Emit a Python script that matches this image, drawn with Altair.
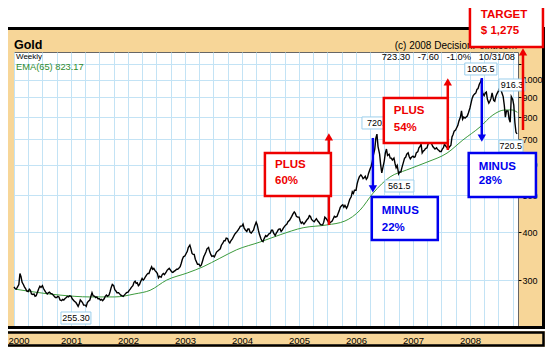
import altair as alt
import pandas as pd

# ---------------- values ----------------
# Weekly gold price (USD/oz): 4 readings a month (days 1, 8, 15, 22)
gold_2000 = [288, 285, 284, 287, 292, 312, 306, 296, 292, 288, 285, 281,
             280, 284, 282, 276, 275, 276, 272, 273, 280, 285, 289, 287,
             290, 285, 282, 279, 276, 278, 279, 277, 276, 274, 272, 270,
             270, 272, 271, 266, 265, 267, 266, 268, 270, 272, 271, 273]
gold_2001 = [272, 268, 266, 264, 262, 259, 256, 260, 266, 264, 262, 258,
             258, 256, 262, 264, 266, 272, 278, 273, 272, 270, 271, 268,
             268, 266, 267, 265, 268, 272, 274, 272, 274, 280, 287, 292,
             290, 283, 281, 278, 278, 276, 274, 273, 272, 274, 276, 278]
gold_2002 = [279, 282, 284, 287, 290, 296, 298, 294, 295, 290, 292, 297,
             303, 300, 302, 306, 310, 312, 312, 318, 325, 320, 322, 318,
             315, 312, 304, 307, 305, 310, 312, 310, 314, 318, 320, 322,
             318, 315, 314, 316, 318, 320, 320, 322, 325, 332, 340, 345]
gold_2003 = [347, 352, 356, 365, 370, 362, 352, 350, 350, 340, 335, 330,
             330, 326, 328, 335, 345, 350, 355, 362, 365, 356, 350, 346,
             347, 345, 350, 355, 358, 360, 362, 370, 375, 380, 380, 386,
             385, 378, 375, 380, 385, 390, 395, 398, 402, 406, 410, 415]
gold_2004 = [415, 420, 410, 406, 402, 408, 408, 400, 398, 402, 405, 415,
             425, 418, 405, 395, 385, 380, 378, 385, 392, 390, 393, 396,
             398, 405, 405, 398, 392, 398, 402, 407, 408, 402, 405, 410,
             415, 418, 420, 426, 430, 435, 440, 446, 452, 448, 440, 438]
gold_2005 = [438, 428, 422, 425, 420, 424, 428, 432, 435, 442, 440, 432,
             428, 426, 430, 434, 428, 425, 420, 418, 418, 425, 438, 435,
             430, 425, 422, 425, 428, 434, 440, 438, 440, 448, 455, 465,
             470, 472, 465, 470, 462, 468, 478, 488, 495, 510, 505, 515]
gold_2006 = [515, 535, 548, 558, 565, 560, 552, 555, 560, 550, 555, 570,
             585, 595, 612, 635, 660, 705, 722, 670, 640, 600, 572, 590,
             615, 645, 660, 635, 640, 625, 625, 618, 625, 605, 590, 598,
             568, 575, 575, 590, 610, 625, 628, 640, 645, 630, 622, 628]
gold_2007 = [632, 628, 630, 645, 650, 665, 670, 680, 645, 652, 655, 662,
             665, 680, 690, 685, 680, 670, 665, 660, 665, 658, 655, 650,
             650, 660, 665, 680, 670, 665, 660, 668, 675, 710, 720, 735,
             740, 750, 760, 780, 800, 830, 790, 800, 795, 800, 805, 820]
gold_2008 = [845, 870, 895, 910, 920, 925, 945, 950, 975, 985, 1005, 925,
             910, 925, 930, 890, 870, 880, 895, 925, 885, 880, 905, 920,
             935, 950, 955, 930, 905, 860, 800, 830, 830, 790, 775, 905,
             890, 860, 775, 730, 723]

# EMA(65) line
ema_dates = ["2000-01-08", "2000-10-22", "2001-05-01", "2001-10-08", "2002-02-14",
             "2002-05-22", "2002-09-06", "2003-01-15", "2003-04-27", "2003-08-12",
             "2003-11-28", "2004-04-25", "2004-09-02", "2005-01-27", "2005-06-29",
             "2005-10-22", "2006-01-27", "2006-04-20", "2006-08-07", "2006-11-22",
             "2007-04-01", "2007-08-07", "2007-11-17", "2008-03-06", "2008-05-27",
             "2008-08-12", "2008-09-26", "2008-10-31"]
ema_values = [284, 274, 271, 271, 276, 282, 300, 313, 325, 342,
              360, 377, 394, 411, 418, 428, 457, 506, 558, 582,
              610, 644, 697, 754, 810, 835, 835, 823]

y_ticks = [300, 400, 500, 600, 700, 800, 900, 1000, 1100]
quarters = [(y, m) for y in range(2000, 2009) for m in (1, 4, 7, 10)]

# value labels on the price line
lab_text = ["1005.5", "916.3", "720.5", "720.5", "561.5", "255.30"]
lab_x = ["2008-03-11", "2008-09-26", "2006-05-24", "2008-09-19", "2006-10-05", "2001-02-01"]
lab_y = [1068.5, 970.3, 771.9, 672.1, 528.4, 238.7]
lab_x0 = ["2007-11-29", "2008-07-05", "2006-02-08", "2008-07-05", "2006-07-05", "2000-10-28"]
lab_x1 = ["2008-06-22", "2008-12-19", "2006-09-07", "2008-12-06", "2007-01-07", "2001-05-08"]
lab_top = [1107.7, 1006.0, 800.6, 696.8, 547.8, 247.5]
lab_bottom = [1030.6, 936.0, 744.6, 648.3, 509.6, 230.2]

# call-out boxes and arrows
box_line1 = ["PLUS", "PLUS", "MINUS", "MINUS", "TARGET"]
box_line2 = ["60%", "54%", "22%", "28%", "$ 1,275"]
box_color = ["#EE0000", "#EE0000", "#0000EE", "#0000EE", "#EE0000"]
box_x0 = ["2004-05-27", "2006-06-28", "2006-04-12", "2007-12-24", "2008-01-01"]
box_x1 = ["2005-07-24", "2007-08-12", "2007-06-09", "2009-02-27", "2009-04-13"]
box_top = [644.4, 897.4, 494.6, 644.4, 1589.8]
box_bottom = [497.6, 684.3, 381.6, 494.6, 1219.6]
text_x = ["2004-07-31", "2006-08-31", "2006-06-15", "2008-02-27", "2008-03-11"]
text1_y = [600.0, 829.8, 454.6, 592.4, 1479.0]
text2_y = [544.5, 749.1, 410.3, 544.5, 1343.0]
arrow_x = ["2005-07-11", "2007-08-12", "2006-04-19", "2008-03-17", "2008-12-06"]
arrow_from = [417.8, 656.1, 705.5, 1012.1, 740.2]
arrow_to = [726.9, 1012.1, 506.6, 688.5, 1212.4]

# ---------------- tables ----------------
def weeks(year, months=range(1, 13)):
    return [f"{year}-{m:02d}-{d:02d}" for m in months for d in (1, 8, 15, 22)]

all_dates = (sum((weeks(y) for y in range(2000, 2008)), [])
             + weeks(2008, range(1, 11)) + ["2008-10-29"])
all_vals = (gold_2000 + gold_2001 + gold_2002 + gold_2003 + gold_2004 +
            gold_2005 + gold_2006 + gold_2007 + gold_2008)
price = pd.DataFrame({"date": all_dates, "price": all_vals})
ema = pd.DataFrame({"date": ema_dates, "ema": ema_values})
labels = pd.DataFrame({"t": lab_text, "x": lab_x, "y": lab_y, "x0": lab_x0,
                       "x1": lab_x1, "top": lab_top, "bottom": lab_bottom})
boxes = pd.DataFrame({"x0": box_x0, "x1": box_x1, "top": box_top,
                      "bottom": box_bottom, "color": box_color})
texts = pd.DataFrame({
    "x": text_x + text_x,
    "y": text1_y + text2_y,
    "t": box_line1 + box_line2,
    "color": box_color + box_color,
})
px_per_decade = 382.5
heads = []
for ax, af, at, col in zip(arrow_x, arrow_from, arrow_to, box_color):
    up = at > af
    centre = at * 10 ** ((-4 if up else 4) / px_per_decade)
    heads.append({"x": ax, "from": af, "head": centre, "color": col,
                  "shape": "triangle-up" if up else "triangle-down"})
arrows = pd.DataFrame(heads)

# ---------------- scales / axes ----------------
FONT = "Liberation Sans"
GRID = "#C3E3F5"
x_scale = alt.Scale(domain=[alt.DateTime(year=2000, month=1, date=1, utc=True),
                            alt.DateTime(year=2008, month=11, date=4, utc=True)])
y_scale = alt.Scale(type="log", domain=[227.5, 1183.5], nice=False, zero=False)
x_axis = alt.Axis(values=[alt.DateTime(year=y, month=m, date=1, utc=True) for y, m in quarters],
                  grid=True, gridColor=GRID, gridWidth=1, ticks=False, domain=False,
                  labelExpr="utcmonth(datum.value) == 0 ? utcFormat(datum.value, '%Y') : ''",
                  labelFont=FONT, labelFontSize=9.5, labelColor="black", labelPadding=9,
                  labelOverlap=False, labelFlush=True, labelFlushOffset=6, labelBound=False,
                  title=None)
y_axis = alt.Axis(orient="right", values=y_ticks, grid=True, gridColor=GRID, gridWidth=1,
                  tickSize=3, tickColor="black", domain=False,
                  labelExpr="datum.value > 1000 ? '' : format(datum.value, 'd')",
                  labelFont=FONT, labelFontSize=9, labelColor="black", labelPadding=1,
                  labelOverlap=False, title=None)

def X(field):
    return alt.X(field, type="temporal", scale=x_scale, axis=x_axis)

def Y(field):
    return alt.Y(field, type="quantitative", scale=y_scale, axis=y_axis)

one = pd.DataFrame({"k": [0]})
TAN = "#F7D698"

# ---------------- frame decoration (pixel positions relative to plot) ----------------
def band(x0, x1, y0, y1, fill):
    return alt.Chart(one).mark_rect(fill=fill, strokeWidth=0).encode(
        x=alt.value(x0), x2=alt.value(x1), y=alt.value(y0), y2=alt.value(y1))

def frame(x0, x1, y0, y1, w):
    return alt.Chart(one).mark_rect(fill=None, fillOpacity=0, stroke="black", strokeWidth=w).encode(
        x=alt.value(x0), x2=alt.value(x1), y=alt.value(y0), y2=alt.value(y1))

layers = [
    band(-30, 560, -70, -25, "white"),
    band(-30, 560, 277, 279, "white"),
    frame(-11, 529.5, -23.5, 275.5, 3),
    frame(-11, 529.5, 280.5, 293.5, 2.5),
]

# ---------------- data layers ----------------
layers.append(alt.Chart(ema).mark_line(color="#3C9A3C", strokeWidth=1, interpolate="monotone").encode(
    x=X("date"), y=Y("ema")))
layers.append(alt.Chart(price).mark_line(color="black", strokeWidth=1.4).encode(
    x=X("date"), y=Y("price")))

# value labels
layers.append(alt.Chart(labels).mark_rect(fill="white", stroke="#9CCFEC", strokeWidth=1).encode(
    x=X("x0"), x2="x1", y=Y("top"), y2="bottom"))
layers.append(alt.Chart(labels).mark_text(font=FONT, fontSize=9, color="black", align="center",
                                          baseline="middle").encode(
    x=X("x"), y=Y("y"), text="t"))

# header texts
def ptext(txt, x, y, size, color="black", weight="normal", align="left"):
    return alt.Chart(one).mark_text(text=txt, font=FONT, fontSize=size, color=color,
                                    fontWeight=weight, align=align, baseline="middle").encode(
        x=alt.value(x), y=alt.value(y))

nb = "\u00a0\u00a0\u00a0"
layers += [
    ptext("Gold", 0, -7.5, 12.5, weight="bold"),
    ptext("(c) 2008 DecisionPoint.com", 503, -6.5, 10, align="right"),
    ptext("Weekly", 2, 5, 8),
    ptext("EMA(65) 823.17", 2, 15, 9.3, color="#2E8B2E"),
    ptext("723.30" + nb + "-7.60" + nb + "-1.0%" + nb + "10/31/08", 501, 4.5, 9.3, align="right"),
]

# call-out arrows, boxes and texts
layers.append(alt.Chart(arrows).mark_rule(strokeWidth=2.5).encode(
    x=X("x"), y=Y("from"), y2="head", color=alt.Color("color:N", scale=None)))
layers.append(alt.Chart(arrows).mark_point(filled=True, size=70, opacity=1).encode(
    x=X("x"), y=Y("head"), color=alt.Color("color:N", scale=None),
    shape=alt.Shape("shape:N", scale=None)))
layers.append(alt.Chart(boxes).mark_rect(fill="white", strokeWidth=2.5).encode(
    x=X("x0"), x2="x1", y=Y("top"), y2="bottom", stroke=alt.Stroke("color:N", scale=None)))
layers.append(alt.Chart(texts).mark_text(font=FONT, fontSize=11.5, fontWeight="bold",
                                         align="left", baseline="middle").encode(
    x=X("x"), y=Y("y"), text="t", color=alt.Color("color:N", scale=None)))

chart = alt.layer(*layers).properties(
    width=504, height=274,
    padding={"left": 6, "top": 44, "right": 27, "bottom": 21},
    autosize=alt.AutoSizeParams(type="none"),
    background=TAN,
).configure_view(fill="white", stroke="#666666", strokeWidth=1)

chart.save("out.html", embed_options={"renderer": "svg", "actions": False})
